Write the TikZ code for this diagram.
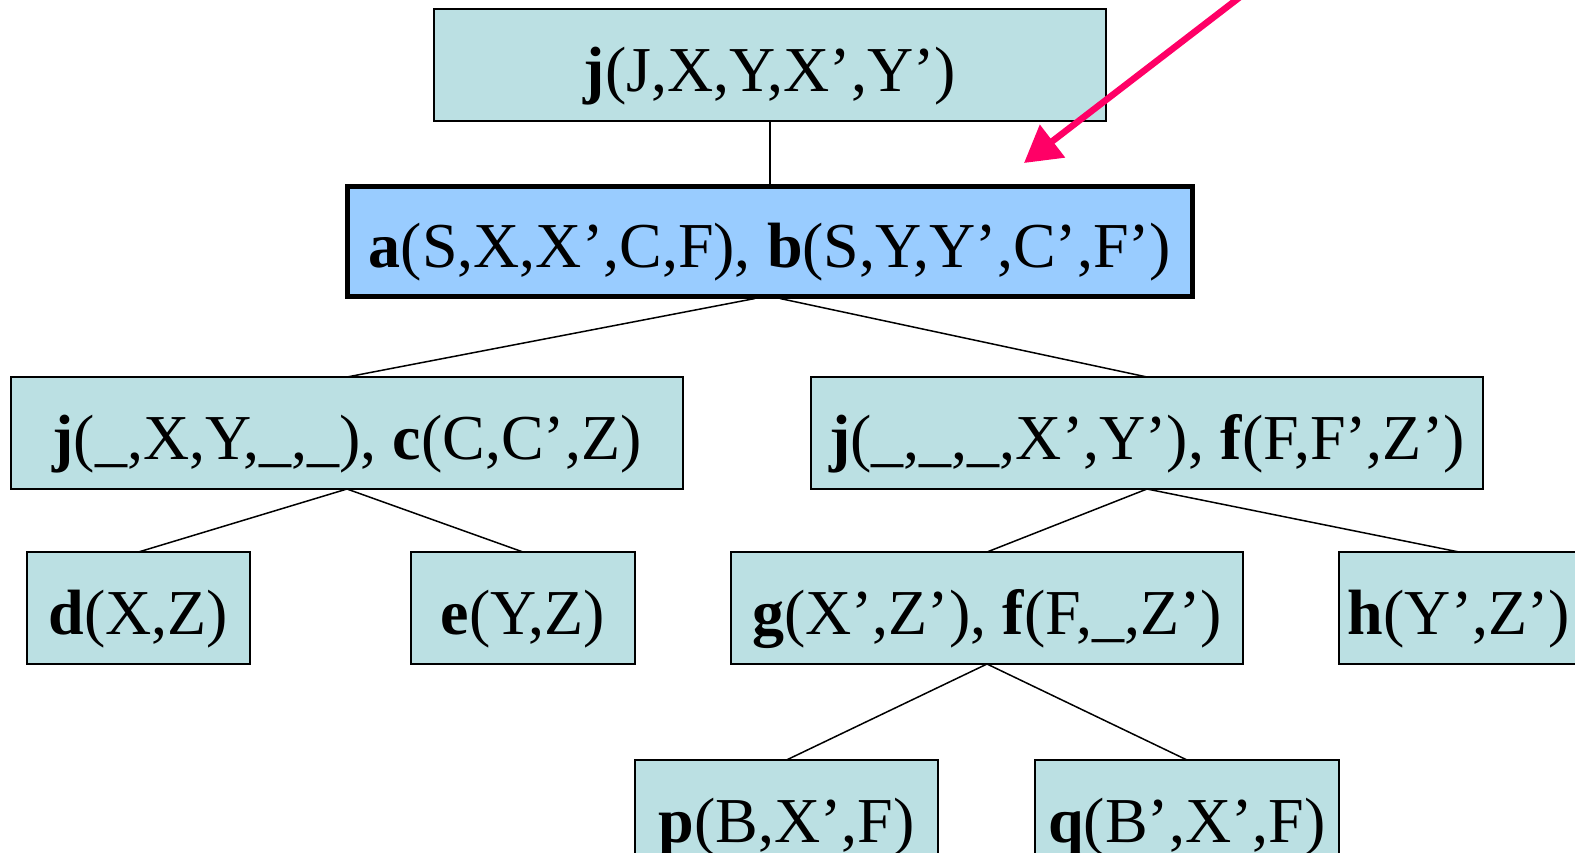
\documentclass[tikz,border=0pt]{standalone}
\usepackage{fontspec}
\setmainfont{Liberation Serif}
\usetikzlibrary{arrows.meta}
\definecolor{nodefill}{HTML}{BBE0E3}
\definecolor{hlfill}{HTML}{99CCFF}
\definecolor{pointercol}{HTML}{FF0066}
\begin{document}
\begin{tikzpicture}[x=1pt,y=-1pt,
  box/.style={draw=black, line width=1.8pt, fill=nodefill, inner sep=0pt, outer sep=0pt,
    minimum height=112pt, text height=52pt, text depth=0pt,
    font=\fontsize{64}{72}\selectfont},
  hlbox/.style={box, fill=hlfill, line width=5pt, minimum height=110pt},
  link/.style={draw=black, line width=1.5pt},
  pointer/.style={draw=pointercol, line width=6.5pt,
    -{Triangle[length=36pt,width=40pt]}}
]
\useasboundingbox (0,0) rectangle (1575,852);
\clip (0,0) rectangle (1575,852);

% tree of join nodes
\node[box, minimum width=672pt] (top) at (770,65) {\textbf{j}(J,X,Y,X’,Y’)};
\node[hlbox, minimum width=845pt] (mid) at (770,241) {\textbf{a}(S,X,X’,C,F), \textbf{b}(S,Y,Y’,C’,F’)};
\node[box, minimum width=672pt] (left) at (347,433) {\textbf{j}(\_,X,Y,\_,\_), \textbf{c}(C,C’,Z)};
\node[box, minimum width=672pt] (right) at (1147,433) {\textbf{j}(\_,\_,\_,X’,Y’), \textbf{f}(F,F’,Z’)};
\node[box, minimum width=223pt] (d) at (138.5,608) {\textbf{d}(X,Z)};
\node[box, minimum width=224pt] (e) at (523,608) {\textbf{e}(Y,Z)};
\node[box, minimum width=512pt] (g) at (987,608) {\textbf{g}(X’,Z’), \textbf{f}(F,\_,Z’)};
\node[box, minimum width=240pt] (h) at (1459,608) {\textbf{h}(Y’,Z’)};
\node[box, minimum width=303pt] (p) at (786.5,816) {\textbf{p}(B,X’,F)};
\node[box, minimum width=304pt] (q) at (1187,816) {\textbf{q}(B’,X’,F)};

% edges
\draw[link] (top.south) -- (mid.north);
\draw[link] ([xshift=-15pt,yshift=-2.5pt]mid.south) -- (left.north);
\draw[link] ([xshift=10pt,yshift=-2.5pt]mid.south) -- (right.north);
\draw[link] (left.south) -- (d.north);
\draw[link] (left.south) -- (e.north);
\draw[link] (right.south) -- (g.north);
\draw[link] (right.south) -- (h.north);
\draw[link] (g.south) -- (p.north);
\draw[link] (g.south) -- (q.north);

% pointer to the highlighted node
\coordinate (ptrstart) at (1240,-3);
\coordinate (ptrend) at (1024,163);
\draw[pointer] (ptrstart) -- (ptrend);
\end{tikzpicture}
\end{document}
